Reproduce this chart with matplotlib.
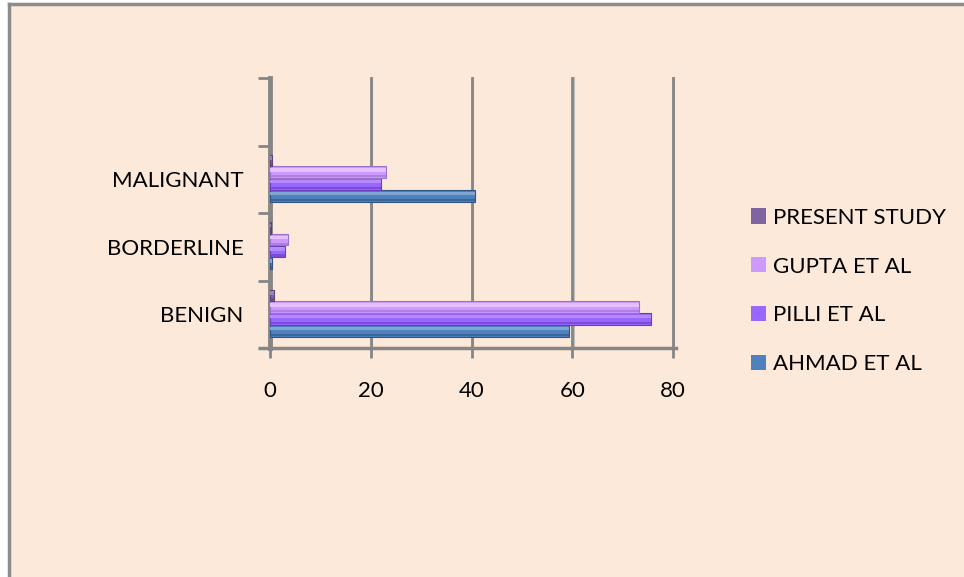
import matplotlib
matplotlib.use("Agg")
import matplotlib.pyplot as plt
from matplotlib.patches import Patch
import numpy as np

plt.rcParams['font.family'] = ['Lato', 'DejaVu Sans']

# Categories, bottom to top
categories = ["BENIGN", "BORDERLINE", "MALIGNANT"]
series_names = ["AHMAD ET AL", "PILLI ET AL", "GUPTA ET AL", "PRESENT STUDY"]
ahmad = [59.3, 0.4, 40.7]
pilli = [75.6, 3.0, 22.0]
gupta = [73.3, 3.5, 23.1]
present = [0.8, 0.2, 0.4]
x_ticks = [0, 20, 40, 60, 80]

values = [ahmad, pilli, gupta, present]
colors = ["#4F81BD", "#9966FF", "#CC99FF", "#8064A2"]
light = ["#7FA6D6", "#B48CFF", "#E6BFFF", "#9B82BC"]
dark = ["#2F5483", "#6B3CBF", "#9E70CC", "#5A4478"]

BG = "#FDE9D9"
GRID = "#868686"
FS = 16

W, H = 964, 577
fig = plt.figure(figsize=(W / 100, H / 100), dpi=100)
fig.patch.set_facecolor("white")

# chart area background with frame on top and left
frame = fig.add_axes([9 / W, 0, 1 - 9 / W, 1 - 4 / H])
frame.set_facecolor(BG)
frame.set_xticks([]); frame.set_yticks([])
for s in ["right", "bottom"]:
    frame.spines[s].set_visible(False)
for s in ["top", "left"]:
    frame.spines[s].set_color("#8C8C8C")
    frame.spines[s].set_linewidth(2.5)

x0, x1 = 270, 673
y0, y1 = 78, 348
ax = fig.add_axes([x0 / W, 1 - y1 / H, (x1 - x0) / W, (y1 - y0) / H])
ax.patch.set_alpha(0)
ax.set_xlim(0, 80)
# one empty slot is kept above the last category
ax.set_ylim(-0.5, len(categories) + 0.5)

# vertical gridlines with a soft shadow
for xv in x_ticks[1:]:
    ax.axvline(xv + 0.25, color="#BDBDBD", lw=1.5, zorder=1, clip_on=False)
    ax.axvline(xv, color=GRID, lw=2, zorder=1.1, clip_on=False)

pos = np.arange(len(categories))
bh = 0.173
offsets = [-0.245, -0.068, 0.106, 0.28]
for vals, off, c, lc, dc in zip(values, offsets, colors, light, dark):
    ys = pos + off
    ax.barh(ys, vals, height=bh, color=c, edgecolor=dc, linewidth=0.8, zorder=3)
    ax.barh(ys + bh * 0.18, vals, height=bh * 0.3, color=lc, linewidth=0, zorder=3.1)
    ax.barh(ys - bh * 0.36, vals, height=bh * 0.2, color=dc, linewidth=0, alpha=0.6, zorder=3.1)

for s in ["top", "right"]:
    ax.spines[s].set_visible(False)
ax.spines["left"].set_color(GRID)
ax.spines["left"].set_linewidth(3.5)
ax.spines["bottom"].set_color(GRID)
ax.spines["bottom"].set_linewidth(2.5)
ax.spines["bottom"].set_bounds(-2, 80.5)

ax.set_xticks(x_ticks)
ax.set_xticklabels([str(t) for t in x_ticks])
ax.tick_params(axis="x", length=7, width=2, color=GRID, pad=17, labelsize=FS)
ax.set_yticks(np.arange(-0.5, len(categories) + 1, 1.0))
ax.set_yticklabels([])
ax.set_yticks(pos, minor=True)
ax.set_yticklabels(categories, minor=True)
ax.tick_params(axis="y", which="major", length=9, width=2, color=GRID)
ax.tick_params(axis="y", which="minor", length=0, pad=19, labelsize=FS)

handles = [Patch(facecolor=colors[i], edgecolor="none") for i in [3, 2, 1, 0]]
labels = [series_names[i] for i in [3, 2, 1, 0]]
fig.legend(handles, labels, loc="center left", bbox_to_anchor=(740 / W, 1 - 291 / H),
           frameon=False, fontsize=FS, handlelength=0.68, handleheight=0.68,
           handletextpad=0.3, labelspacing=1.3, borderpad=0)

fig.savefig("out.png", dpi=100, facecolor=fig.get_facecolor())
